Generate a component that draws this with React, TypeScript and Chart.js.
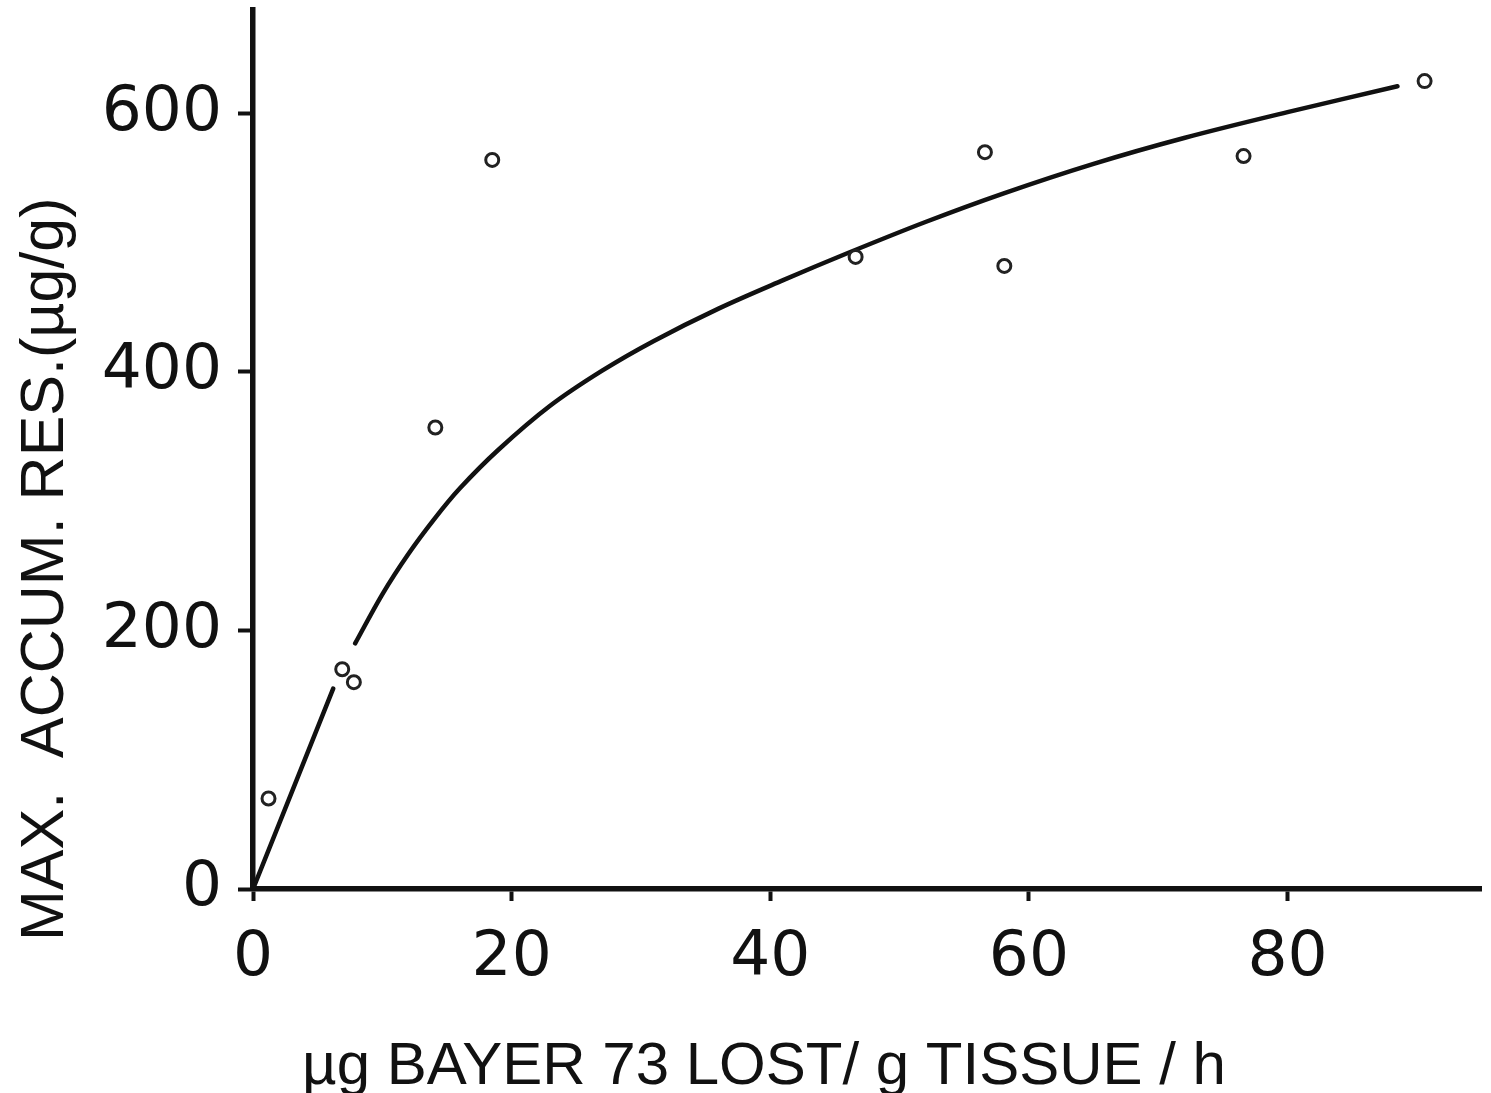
import React, { useEffect, useRef } from "react";
import { Chart, registerables } from "chart.js";

Chart.register(...registerables);

// Tick values
const xTickValues = [0, 20, 40, 60, 80];
const yTickValues = [0, 200, 400, 600];

// Observed points (open circles)
const obsX = [1.2, 6.9, 7.8, 14.1, 18.5, 46.6, 56.6, 58.1, 76.6, 90.6];
const obsY = [70, 170, 160, 357, 564, 489, 570, 482, 567, 625];

// Fitted curve (null = gap in the drawn line)
const fitX = [0, 6.2, 7.0, 7.9, 10, 12, 14, 16, 19, 23, 27, 31, 36, 41, 46, 52, 58, 65, 72, 80, 88.5];
const fitY = [0, 155, null, 190, 228, 259, 286, 310, 340, 374, 401, 424, 449, 471, 492, 516, 538, 561, 581, 601, 621];

const xTitle = "µg BAYER 73 LOST/ g TISSUE / h";
const yTitle = "MAX.  ACCUM. RES.(µg/g)";

export default function App() {
  const ref = useRef<HTMLCanvasElement>(null);
  useEffect(() => {
    const tickFamily = "'DejaVu Sans', 'Liberation Sans', sans-serif";
    const titleFamily = "'Liberation Sans', 'DejaVu Sans', sans-serif";
    const ink = "#111";

    const axisTitles = {
      id: "axisTitles",
      afterDraw(chart: any) {
        const ctx = chart.ctx as CanvasRenderingContext2D;
        const area = chart.chartArea;
        ctx.save();
        ctx.fillStyle = ink;
        ctx.textBaseline = "alphabetic";
        // x-axis title
        ctx.font = `60px ${titleFamily}`;
        ctx.textAlign = "center";
        ctx.fillText(xTitle, area.left + 511, chart.height - 9);
        // y-axis title
        ctx.translate(63, area.bottom + 52);
        ctx.rotate(-Math.PI / 2);
        ctx.font = `61px ${titleFamily}`;
        ctx.textAlign = "left";
        ctx.fillText(yTitle, 0, 0);
        ctx.restore();
      },
    };

    const chart = new Chart(ref.current as HTMLCanvasElement, {
      type: "scatter",
      data: {
        datasets: [
          {
            type: "line",
            data: fitX.map((x, i) => ({ x, y: fitY[i] })),
            borderColor: ink,
            borderWidth: 4.5,
            borderCapStyle: "round",
            pointRadius: 0,
            spanGaps: false,
            tension: 0.35,
            fill: false,
            order: 2,
          } as any,
          {
            type: "scatter",
            data: obsX.map((x, i) => ({ x, y: obsY[i] })),
            pointRadius: 6.5,
            pointBorderWidth: 3,
            pointBorderColor: "#222",
            pointBackgroundColor: "#fff",
            order: 1,
          } as any,
        ],
      },
      options: {
        animation: false,
        responsive: false,
        maintainAspectRatio: false,
        layout: { padding: { top: 10, right: 9, left: 0, bottom: 0 } },
        plugins: { legend: { display: false }, tooltip: { enabled: false } },
        scales: {
          x: {
            type: "linear",
            min: 0,
            max: 95,
            afterBuildTicks: (s: any) => {
              s.ticks = xTickValues.map((v) => ({ value: v }));
            },
            afterFit: (s: any) => {
              s.height = 204;
              s.paddingLeft = 0;
              s.paddingRight = 0;
            },
            border: { color: ink, width: 5.5 },
            grid: { drawOnChartArea: false, drawTicks: true, tickLength: 12, tickWidth: 4, color: ink },
            ticks: { color: ink, font: { family: tickFamily, size: 63 }, padding: 20, maxRotation: 0 },
          },
          y: {
            type: "linear",
            min: 0,
            max: 680,
            afterBuildTicks: (s: any) => {
              s.ticks = yTickValues.map((v) => ({ value: v }));
            },
            afterFit: (s: any) => {
              s.width = 253;
              s.paddingTop = 0;
              s.paddingBottom = 0;
            },
            border: { color: ink, width: 5.5 },
            grid: { drawOnChartArea: false, drawTicks: true, tickLength: 15, tickWidth: 4, color: ink },
            ticks: { color: ink, font: { family: tickFamily, size: 63 }, padding: 16 },
          },
        },
      },
      plugins: [axisTitles],
    } as any);
    return () => chart.destroy();
  }, []);
  return (
    <div style={{ position: "fixed", left: 0, top: 0, width: 1491, height: 1093, background: "#fff" }}>
      <canvas ref={ref} width={1491} height={1093} style={{ display: "block" }} />
    </div>
  );
}
